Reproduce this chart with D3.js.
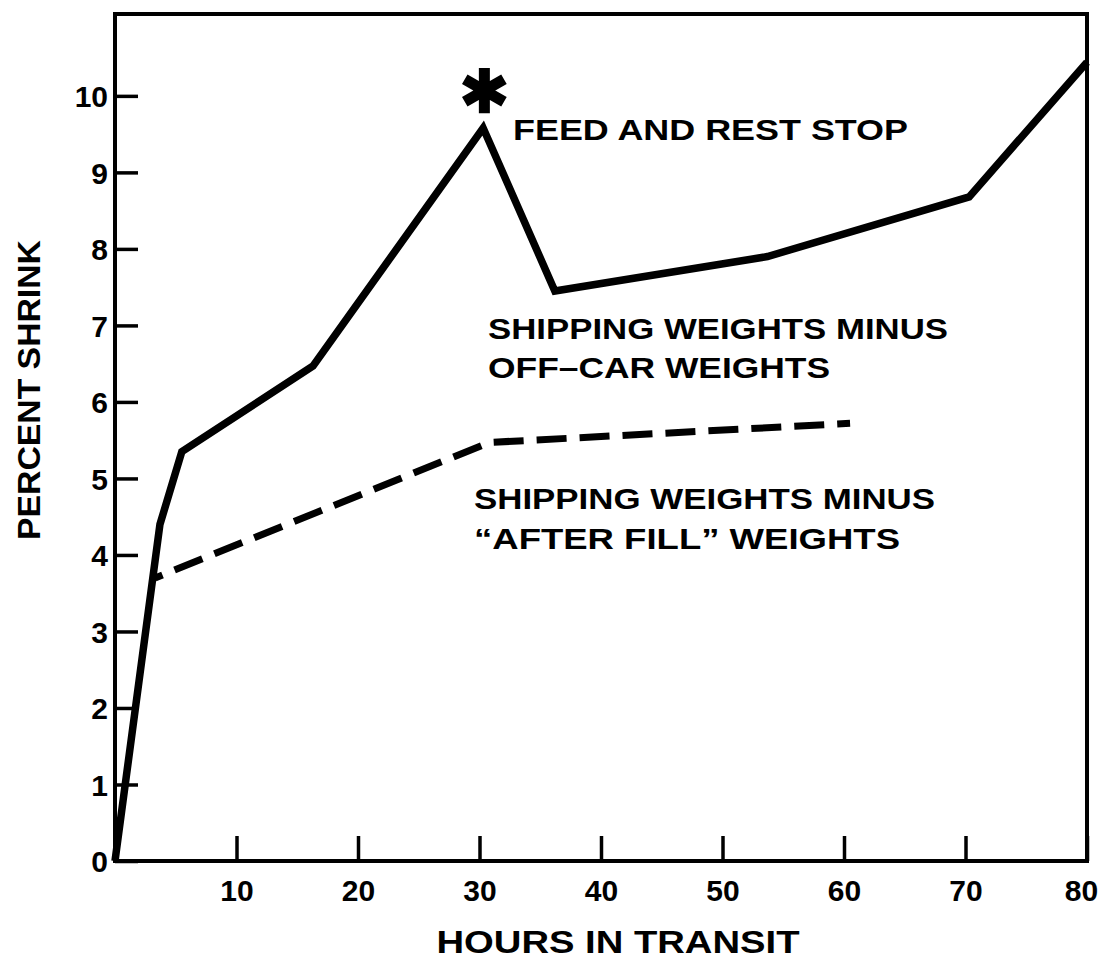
<!DOCTYPE html>
<html>
<head>
<meta charset="utf-8">
<script src="https://cdn.jsdelivr.net/npm/d3@7"></script>
<style>
  html, body { margin: 0; padding: 0; background: #fff; }
  svg { display: block; }
  text { font-family: "Liberation Sans", Arial, Helvetica, sans-serif; font-weight: bold; fill: #000; }
</style>
</head>
<body>
<svg id="chart" width="1103" height="960"></svg>
<script>
// ---- data ----
const offCarHours   = [0, 3.7, 5.5, 16.3, 30.3, 36.2, 53.7, 70.3, 80];
const offCarShrink  = [0, 4.4, 5.35, 6.47, 9.58, 7.45, 7.9, 8.68, 10.44];
const afterFillHours  = [3.3, 30.8, 60.5];
const afterFillShrink = [3.7, 5.47, 5.72];
const xTicks = [10, 20, 30, 40, 50, 60, 70, 80];
const yTicks = [0, 1, 2, 3, 4, 5, 6, 7, 8, 9, 10];
const feedStop = { hours: 30.4, shrink: 10.07 };
const xTitle = "HOURS IN TRANSIT";
const yTitle = "PERCENT SHRINK";

// ---- layout ----
const svg = d3.select("#chart");
const x = d3.scaleLinear().domain([0, 80]).range([115, 1087]);
const y = d3.scaleLinear().domain([0, 11.07]).range([861, 14]);

// frame
svg.append("rect")
  .attr("x", x(0)).attr("y", y(11.07))
  .attr("width", x(80) - x(0)).attr("height", y(0) - y(11.07))
  .attr("fill", "none").attr("stroke", "#000").attr("stroke-width", 4);

// y axis
const yAxis = svg.append("g")
  .attr("transform", `translate(${x(0)},0)`)
  .call(d3.axisLeft(y).tickValues(yTicks).tickSize(-23).tickPadding(7).tickFormat(d3.format("d")));
yAxis.select(".domain").remove();
yAxis.selectAll(".tick line").attr("stroke", "#000").attr("stroke-width", 3.5);
yAxis.selectAll(".tick text").style("font-size", "30px").attr("dy", "0.36em");

// x axis
const xAxis = svg.append("g")
  .attr("transform", `translate(0,${y(0)})`)
  .call(d3.axisBottom(x).tickValues(xTicks).tickSize(-25).tickPadding(19).tickFormat(d3.format("d")));
xAxis.select(".domain").remove();
xAxis.selectAll(".tick line").attr("stroke", "#000").attr("stroke-width", 3.5);
xAxis.selectAll(".tick text").style("font-size", "30px");
xAxis.selectAll(".tick text").filter(d => d === 80).attr("dx", -6);

// lines
const line = d3.line().x(d => x(d[0])).y(d => y(d[1]));
svg.append("path")
  .datum(offCarHours.map((h, i) => [h, offCarShrink[i]]))
  .attr("d", line)
  .attr("fill", "none").attr("stroke", "#000").attr("stroke-width", 7.5)
  .attr("stroke-linejoin", "miter").attr("stroke-miterlimit", 10);

svg.append("path")
  .datum(afterFillHours.map((h, i) => [h, afterFillShrink[i]]))
  .attr("d", line)
  .attr("fill", "none").attr("stroke", "#000").attr("stroke-width", 7)
  .attr("stroke-dasharray", "30,13").attr("stroke-dashoffset", 22);

// asterisk marker for feed and rest stop
svg.append("path")
  .attr("d", d3.symbol().type(d3.symbolAsterisk).size(1450)())
  .attr("transform", `translate(${x(feedStop.hours)},${y(feedStop.shrink)})`)
  .attr("fill", "none").attr("stroke", "#000").attr("stroke-width", 11);

// annotations
function label(txt, x0, yb, len, size) {
  svg.append("text").attr("x", x0).attr("y", yb)
    .attr("textLength", len).attr("lengthAdjust", "spacingAndGlyphs")
    .style("font-size", size + "px").text(txt);
}
label("FEED AND REST STOP", 513, 140, 395, 30);
label("SHIPPING WEIGHTS MINUS", 488, 339, 460, 30);
label("OFF\u2013CAR WEIGHTS", 488, 378, 342, 30);
label("SHIPPING WEIGHTS MINUS", 474, 509, 461, 30);
label("\u201CAFTER FILL\u201D WEIGHTS", 474, 549, 426, 30);

// axis titles
svg.append("text")
  .attr("x", 618).attr("y", 953).attr("text-anchor", "middle")
  .attr("textLength", 363).attr("lengthAdjust", "spacingAndGlyphs")
  .style("font-size", "32px").text(xTitle);

svg.append("text")
  .attr("transform", "translate(40,390) rotate(-90)")
  .attr("text-anchor", "middle")
  .attr("textLength", 300).attr("lengthAdjust", "spacingAndGlyphs")
  .style("font-size", "31px").text(yTitle);
</script>
</body>
</html>
